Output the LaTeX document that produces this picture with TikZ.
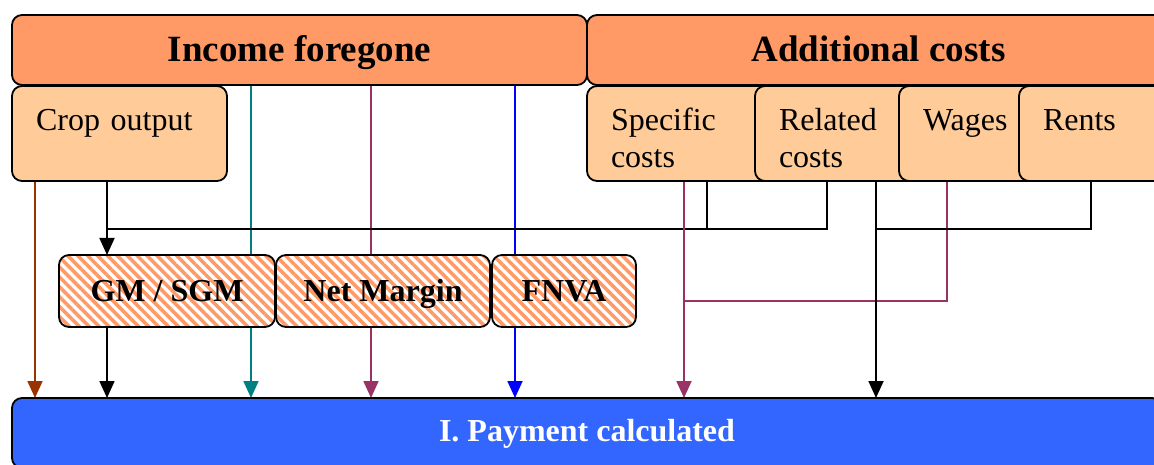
\documentclass[tikz,border=0pt]{standalone}
\usepackage{fontspec}
\setmainfont{Liberation Serif}
\usepackage{xcolor}
\definecolor{headfill}{HTML}{FF9966}
\definecolor{subfill}{HTML}{FFCC99}
\definecolor{payfill}{HTML}{3366FF}
\definecolor{rust}{HTML}{993300}
\definecolor{tealc}{HTML}{008080}
\definecolor{plum}{HTML}{993366}
\definecolor{bluec}{HTML}{0000FF}
\usetikzlibrary{arrows.meta, patterns.meta, positioning, backgrounds}
\tikzset{
    box/.style={
        draw, line width=1.8pt,
        rounded corners=10pt,
        inner sep=0pt, outer sep=0pt
    },
    head/.style={
        box, fill=headfill,
        minimum height=70pt,
        text height=29pt, text depth=5pt,
        font=\fontsize{37}{40}\selectfont\bfseries
    },
    sub/.style={
        box, fill=subfill,
        anchor=north west, align=left,
        text width=#1, inner xsep=24pt, inner ysep=5pt,
        text height=40pt, text depth=45pt,
        font=\fontsize{32}{37}\selectfont
    },
    margin/.style={
        box, minimum height=72pt,
        text height=25pt, text depth=5pt,
        preaction={fill=white},
        pattern={Lines[angle=-45, distance=7pt, line width=3.5pt]},
        pattern color=headfill,
        font=\fontsize{32}{36}\selectfont\bfseries
    },
    pay/.style={
        box, fill=payfill, text=white,
        minimum height=70pt,
        text height=23pt, text depth=7pt,
        font=\fontsize{32}{36}\selectfont\bfseries
    },
    conn/.style={
        line width=1.8pt,
        -{Triangle[width=15pt, length=17pt]},
    },
    link/.style={line width=1.5pt},
}

\begin{document}
\begin{tikzpicture}[x=1pt, y=-1pt]
        \useasboundingbox (0,0) rectangle (1154,465);

        \node[head, anchor=north west, minimum width=575pt] (income) at (12,15) {Income foregone};
        \node[head, right=0pt of income, minimum width=583pt] (extra) {Additional costs};

        \node[sub=167pt] (crop) at (12,86) {Crop output};
        \node[sub=155pt] (spec) at (587,86) {Specific\\costs};
        \node[sub=132pt] (rel) at (755,86) {Related\\costs};
        \node[sub=103pt] (wages) at (899,86) {Wages};
        \node[sub=113pt] (rents) at (1019,86) {Rents};

        \node[margin, anchor=north west, minimum width=216pt] (gm) at (59,255) {GM / SGM};
        \node[margin, right=1pt of gm, minimum width=214pt] (net) {Net Margin};
        \node[margin, right=2pt of net, minimum width=144pt] (fnva) {FNVA};

        \node[pay, anchor=north west, minimum width=1150pt] (pay) at (12,398) {I. Payment calculated};

        \coordinate (gmjoin) at (107,229);
        \coordinate (specjoin) at (684,301);
        \coordinate (reljoin) at (876,229);

        \begin{scope}[on background layer]
            \draw[conn, rust] (crop.south -| 35,0) -- (pay.north -| 35,0);
            \draw[conn] (crop.south -| gmjoin) -- (gm.north -| gmjoin);
            \draw[conn] (gm.south -| gmjoin) -- (pay.north -| gmjoin);

            \foreach \xpos/\col in {251/tealc, 371/plum, 515/bluec}
                \draw[conn, \col] (income.south -| \xpos,0) -- (pay.north -| \xpos,0);

            \draw[link] (spec.south -| 707,0) -- (gmjoin -| 707,0);
            \draw[link] (rel.south -| 827,0) |- (gmjoin);

            \draw[conn, plum] (spec.south -| specjoin) -- (pay.north -| specjoin);
            \draw[link, plum] (wages.south -| 947,0) |- (specjoin);

            \draw[conn] (rel.south -| reljoin) -- (pay.north -| reljoin);
            \draw[link] (rents.south -| 1091,0) |- (reljoin);
        \end{scope}
    \end{tikzpicture}
\end{document}
